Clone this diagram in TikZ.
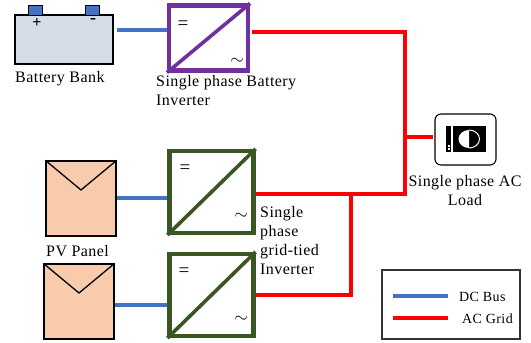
\documentclass[tikz,border=0pt]{standalone}
\usepackage{fontspec}
\setmainfont{Liberation Serif}[LetterSpace=2.8]
\tikzset{
  x=1pt,y=-1pt,
  lbl/.style={inner sep=0pt,font=\fontsize{16}{19}\selectfont,align=left,anchor=north west},
  dcwire/.style={draw={rgb,255:red,68;green,114;blue,196},line width=3.8pt},
  acwire/.style={draw=red,line width=3.8pt},
  inv/.style={draw=#1,line width=4.2pt,fill=white,minimum width=0pt,inner sep=0pt},
  pv/.style={draw=black,line width=1.3pt,fill={rgb,255:red,248;green,203;blue,173},inner sep=0pt},
  sym/.style={inner sep=0pt,font=\fontsize{19}{19}\selectfont},
}
\definecolor{purp}{RGB}{112,48,160}
\definecolor{grn}{RGB}{56,87,35}
\begin{document}
\begin{tikzpicture}
\useasboundingbox (0,0) rectangle (531,343);
% wires
\coordinate (j1) at (405,32);
\coordinate (j2) at (405,194);
\coordinate (j3) at (351,194);
\coordinate (j4) at (351,295);
\coordinate (j5) at (405,137);
% battery
\node[draw=black,line width=1.2pt,fill={rgb,255:red,214;green,220;blue,229},minimum width=98pt,minimum height=49pt,inner sep=0pt] (bat) at (64,39.5) {};
\node[draw=black,line width=1.2pt,fill={rgb,255:red,68;green,114;blue,196},minimum width=14pt,minimum height=10pt,inner sep=0pt] (tp) at (35.5,10.5) {};
\node[draw=black,line width=1.2pt,fill={rgb,255:red,68;green,114;blue,196},minimum width=14pt,minimum height=10pt,inner sep=0pt] (tm) at (92.5,10.5) {};
\node[sym,font=\bfseries\fontsize{16}{16}\selectfont] (plus) at (37,23) {+};
\node[sym,font=\bfseries\fontsize{18}{18}\selectfont] (minus) at (93,20.5) {-};
\node[lbl] (batl) at (15,71) {Battery Bank};
% inverters
\node[inv=purp,minimum width=79pt,minimum height=65pt] (i1) at (208.5,38) {};
\draw[purp,line width=3.6pt] (i1.south west) -- (i1.north east);
\node[sym] (i1a) at (183,25) {=};
\node[sym] (i1b) at (237,61) {$\sim$};
\node[lbl] (i1l) at (156,75) {Single phase Battery\\Inverter};
\node[inv=grn,minimum width=84pt,minimum height=82pt] (i2) at (211.5,192) {};
\draw[grn,line width=3.6pt] (i2.south west) -- (i2.north east);
\node[sym] (i2a) at (185,169) {=};
\node[sym] (i2b) at (241,216) {$\sim$};
\node[inv=grn,minimum width=84pt,minimum height=82pt] (i3) at (211.5,295) {};
\draw[grn,line width=3.6pt] (i3.south west) -- (i3.north east);
\node[sym] (i3a) at (184,272) {=};
\node[sym] (i3b) at (241,319) {$\sim$};
\node[lbl] (i2l) at (260,206) {Single\\phase\\grid-tied\\Inverter};
% PV
\node[pv,minimum width=70pt,minimum height=75pt] (p1) at (81,198.5) {};
\draw[black,line width=1.3pt] (p1.north west) -- (81,190) -- (p1.north east);
\node[lbl] (p1l) at (46,245) {PV Panel};
\node[pv,minimum width=70pt,minimum height=75pt] (p2) at (79,301.5) {};
\draw[black,line width=1.3pt] (p2.north west) -- (79,293) -- (p2.north east);
% load
\node[draw=black,line width=1.1pt,rounded corners=6pt,fill=white,minimum width=61pt,minimum height=51pt,inner sep=0pt] (load) at (465.5,139.5) {};
\fill[black] (446,126) rectangle (486,152);
\fill[white] (451,126) rectangle (453,152);
\fill[white] (447.5,145) rectangle (449.5,147);
\fill[white] (447.5,148) rectangle (449.5,150);
\fill[white] (469,130) arc[start angle=90,end angle=270,x radius=10.5pt,y radius=9pt];
\draw[white,line width=1pt] (469,130) arc[start angle=90,end angle=-90,x radius=10.5pt,y radius=9pt];
\node[lbl,align=center,anchor=north] (loadl) at (465,175) {Single phase AC\\Load};
% connectors
\draw[dcwire] (bat.east |- 0,30) ++(3,0) -- (i1.west |- 0,30);
\draw[acwire] (252,32) -- (j1) -- (j2) -- (i2.east |- j2);
\draw[acwire] (j5) -- (433,137);
\draw[acwire] (j3) -- (j4) -- (i3.east |- j4);
\draw[dcwire] (p1.east |- 0,198) -- (i2.west |- 0,198);
\draw[dcwire] (p2.east |- 0,305) -- (i3.west |- 0,305);
% legend
\node[draw=black!80,line width=1.3pt,minimum width=138pt,minimum height=69pt,inner sep=0pt] (leg) at (451,304.5) {};
\coordinate (l1) at (393,296); \coordinate (l2) at (448,296);
\coordinate (l3) at (393,318); \coordinate (l4) at (448,318);
\draw[dcwire] (l1) -- (l2);
\draw[acwire] (l3) -- (l4);
\node[lbl,font=\fontsize{14}{16}\selectfont,anchor=west] (dc) at (459,297) {DC Bus};
\node[lbl,font=\fontsize{14}{16}\selectfont,anchor=west] (ac) at (462,319) {AC Grid};
\end{tikzpicture}
\end{document}
